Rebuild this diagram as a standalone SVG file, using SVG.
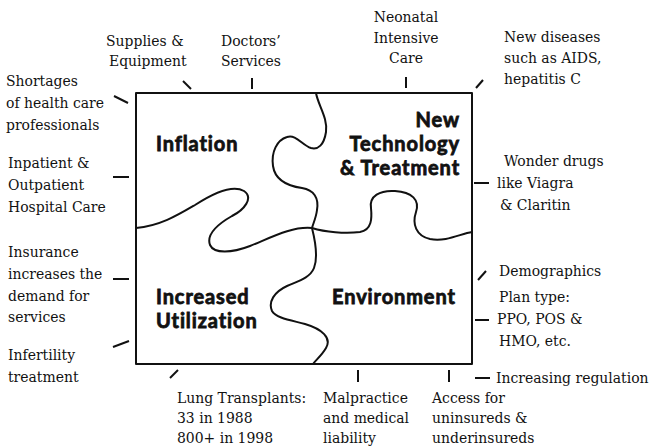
<svg xmlns="http://www.w3.org/2000/svg" width="655" height="448" viewBox="0 0 655 448">
  <style>
    .note { font-family: 'DejaVu Serif Condensed', 'DejaVu Serif', serif; font-stretch: condensed; font-size: 15.5px; fill: #111; }
    .title { font-family: Lato, 'Liberation Sans', sans-serif; font-weight: bold; font-size: 20px; letter-spacing: 0.9px; fill: #111; stroke: #111; stroke-width: 0.8; }
    .edge { fill: none; stroke: #111; stroke-width: 2; stroke-linecap: round; stroke-linejoin: round; }
    .tick { fill: none; stroke: #111; stroke-width: 2; stroke-linecap: butt; }
  </style>
  <rect width="655" height="448" fill="#fff"/>

  <!-- puzzle frame and the seams between the four pieces -->
  <g id="puzzle">
    <rect class="edge" x="136" y="93" width="336" height="271"/>
    <path class="edge" d="M316,93 C318,105 328,118 326,132 C324,145 318,150 311,148 C302,145 296,134 287,137 C277,140 271,152 273,166 C275,180 288,186 302,188 C314,190 319,198 317,210 C316,218 313,224 312,228"/>
    <path class="edge" d="M136,228 C160,226 178,215 195,205 C212,194 232,184 244,191 C254,198 244,210 232,216 C218,224 206,234 210,245 C214,254 232,253 250,246 C270,238 292,226 312,228"/>
    <path class="edge" d="M312,228 C325,232 345,234 360,232 C372,230 372,218 371,208 C369,196 380,190 395,191 C412,192 420,200 416,212 C412,224 416,236 430,239 C446,242 460,234 472,232"/>
    <path class="edge" d="M312,228 C315,240 318,258 314,268 C310,278 298,281 287,286 C274,292 268,302 272,311 C276,318 290,320 305,324 C322,329 332,338 326,348 C322,355 316,360 313,364"/>
  </g>

  <g id="inflation">
    <text class="title" x="156" y="151">Inflation</text>
  </g>
  <g id="new-technology">
    <text class="title" text-anchor="end" x="460" y="127">New</text>
    <text class="title" text-anchor="end" x="460" y="151">Technology</text>
    <text class="title" text-anchor="end" x="460" y="175">&amp; Treatment</text>
  </g>
  <g id="increased-utilization">
    <text class="title" x="156" y="304">Increased</text>
    <text class="title" x="156" y="328">Utilization</text>
  </g>
  <g id="environment">
    <text class="title" x="332" y="304">Environment</text>
  </g>

  <!-- short pointer strokes from each note to the puzzle -->
  <g id="connectors">
    <line class="tick" x1="183" y1="81" x2="191" y2="89"/>
    <line class="tick" x1="252" y1="78" x2="252" y2="89"/>
    <line class="tick" x1="406" y1="77" x2="406" y2="88"/>
    <line class="tick" x1="476" y1="88" x2="483" y2="80"/>
    <line class="tick" x1="114" y1="96" x2="128" y2="103"/>
    <line class="tick" x1="113" y1="177" x2="129" y2="177"/>
    <line class="tick" x1="113" y1="279" x2="129" y2="279"/>
    <line class="tick" x1="113" y1="347" x2="129" y2="341"/>
    <line class="tick" x1="474" y1="183" x2="489" y2="183"/>
    <line class="tick" x1="478" y1="280" x2="486" y2="271"/>
    <line class="tick" x1="475" y1="320" x2="489" y2="320"/>
    <line class="tick" x1="475" y1="378" x2="490" y2="378"/>
    <line class="tick" x1="170" y1="378" x2="178" y2="370"/>
    <line class="tick" x1="358" y1="370" x2="358" y2="382"/>
    <line class="tick" x1="449" y1="370" x2="449" y2="382"/>
  </g>

  <g id="note-supplies">
    <text class="note" x="106" y="46">Supplies &amp;</text>
    <text class="note" x="109" y="66">Equipment</text>
  </g>
  <g id="note-doctors">
    <text class="note" x="221" y="46">Doctors’</text>
    <text class="note" x="221" y="66">Services</text>
  </g>
  <g id="note-neonatal" text-anchor="middle">
    <text class="note" x="406" y="22">Neonatal</text>
    <text class="note" x="406" y="43">Intensive</text>
    <text class="note" x="406" y="63">Care</text>
  </g>
  <g id="note-diseases">
    <text class="note" x="504" y="42">New diseases</text>
    <text class="note" x="504" y="63">such as AIDS,</text>
    <text class="note" x="504" y="84">hepatitis C</text>
  </g>
  <g id="note-shortages">
    <text class="note" x="6" y="86">Shortages</text>
    <text class="note" x="6" y="108">of health care</text>
    <text class="note" x="6" y="130">professionals</text>
  </g>
  <g id="note-hospital">
    <text class="note" x="8" y="168">Inpatient &amp;</text>
    <text class="note" x="8" y="190">Outpatient</text>
    <text class="note" x="8" y="212">Hospital Care</text>
  </g>
  <g id="note-insurance">
    <text class="note" x="8" y="257">Insurance</text>
    <text class="note" x="8" y="279">increases the</text>
    <text class="note" x="8" y="301">demand for</text>
    <text class="note" x="8" y="322">services</text>
  </g>
  <g id="note-infertility">
    <text class="note" x="8" y="360">Infertility</text>
    <text class="note" x="8" y="382">treatment</text>
  </g>
  <g id="note-lung">
    <text class="note" x="177" y="403">Lung Transplants:</text>
    <text class="note" x="177" y="423">33 in 1988</text>
    <text class="note" x="177" y="443">800+ in 1998</text>
  </g>
  <g id="note-malpractice">
    <text class="note" x="323" y="403">Malpractice</text>
    <text class="note" x="323" y="423">and medical</text>
    <text class="note" x="323" y="443">liability</text>
  </g>
  <g id="note-access">
    <text class="note" x="432" y="403">Access for</text>
    <text class="note" x="432" y="423">uninsureds &amp;</text>
    <text class="note" x="432" y="443">underinsureds</text>
  </g>
  <g id="note-wonder">
    <text class="note" x="504" y="166">Wonder drugs</text>
    <text class="note" x="497" y="188">like Viagra</text>
    <text class="note" x="500" y="210">&amp; Claritin</text>
  </g>
  <g id="note-demographics">
    <text class="note" x="499" y="276">Demographics</text>
  </g>
  <g id="note-plan">
    <text class="note" x="499" y="302">Plan type:</text>
    <text class="note" x="497" y="324">PPO, POS &amp;</text>
    <text class="note" x="499" y="346">HMO, etc.</text>
  </g>
  <g id="note-regulation">
    <text class="note" x="496" y="383">Increasing regulation</text>
  </g>
</svg>
